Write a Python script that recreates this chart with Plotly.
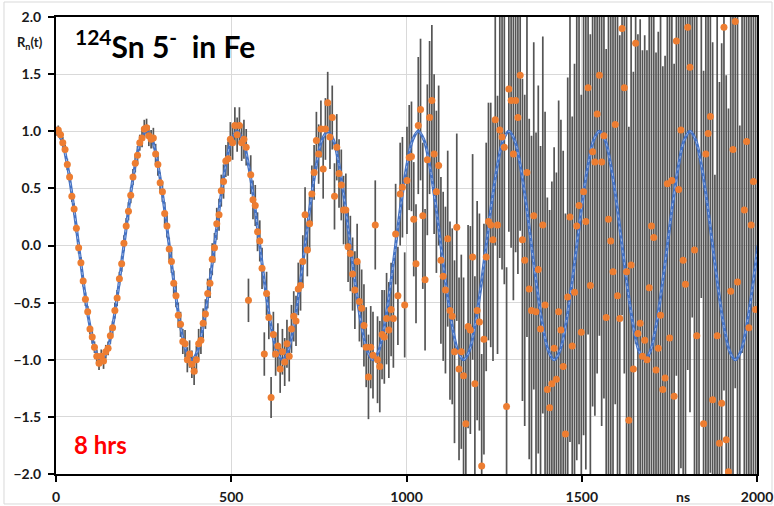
import plotly.graph_objects as go

# ---- data ----
t_start = 0.0          # ns, first channel
t_step = 6.46          # ns, channel width

r_values = [
    # 0 - 252 ns
    1.00, 1.01, 0.97, 0.90, 0.84, 0.71, 0.60, 0.43, 0.32, 0.15, -0.02, -0.15, -0.31, -0.47, -0.58, -0.73, -0.80, -0.89, -0.97, -1.03,
    -0.97, -1.01, -0.93, -0.90, -0.79, -0.72, -0.57, -0.46, -0.29, -0.16, 0.02, 0.17, 0.30, 0.44, 0.60, 0.72, 0.79, 0.90, 0.94, 1.02,
    # 258 - 510 ns
    1.03, 0.96, 0.93, 0.94, 0.80, 0.71, 0.55, 0.47, 0.28, 0.17, -0.03, -0.14, -0.33, -0.44, -0.61, -0.69, -0.84, -0.86, -1.00, -0.95,
    -1.04, -1.10, -1.00, -0.86, -0.83, -0.68, -0.60, -0.42, -0.33, -0.12, -0.02, 0.19, 0.27, 0.48, 0.56, 0.74, 0.76, 0.93, 0.90, 1.05,
    # 517 - 769 ns
    0.97, 1.05, 0.90, 0.93, 0.86, -0.48, 0.62, 0.40, 0.35, 0.12, 0.04, -0.20, -0.95, -0.42, -0.63, -1.33, -0.78, -0.95, -0.88, -1.08,
    -0.93, -1.02, -0.86, -0.97, -0.73, -0.62, -0.66, -0.38, -0.35, -0.14, 0.27, -0.04, 0.19, 0.45, 0.64, 0.92, 0.80, 1.02, 0.67, 1.02,
    # 775 - 1027 ns
    1.25, 0.95, 1.12, 0.43, 0.86, 0.63, 0.53, 0.31, 0.31, -0.01, -0.07, -0.25, -0.39, -0.14, -0.49, -0.55, -0.70, -0.89, -1.15, -0.89,
    -0.96, 0.18, -1.00, -1.06, -0.78, -0.80, -0.64, -0.74, -0.56, -0.64, 0.10, -0.44, 0.45, 0.51, -0.52, 0.57, 0.77, 0.78, 0.23, -0.16,
    # 1034 - 1285 ns
    1.05, 1.19, 0.26, -0.30, 0.75, 1.12, 1.27, 0.80, 0.47, 0.70, -0.13, -0.27, -0.39, 0.06, -0.57, -0.62, -0.93, 0.16, -1.08, -0.93,
    -1.14, -1.56, -0.71, -0.74, -0.10, -1.21, -0.57, -0.67, -1.93, -0.82, -0.10, 0.21, 0.18, 0.05, 1.10, 0.18, 1.01, 0.95, 0.86, -1.41,
    # 1292 - 1544 ns
    1.37, 1.27, 0.80, 1.27, 1.12, 1.49, 0.05, -0.13, 0.64, -0.38, -0.57, 0.26, -0.58, -0.21, -0.73, 0.18, -0.52, -1.26, -1.42, -1.21,
    -0.90, -1.17, -0.58, -0.74, -1.06, -1.65, -0.45, 0.25, -0.88, -0.41, 0.17, 0.35, -0.76, 0.47, 0.21, 1.38, -0.35, 0.82, 0.73, 1.15,
    # 1550 - 1802 ns
    1.49, 0.73, 0.96, -0.63, 0.23, 0.04, -0.23, 1.06, -0.44, -0.64, 1.90, 1.38, -0.23, -1.53, -0.17, -1.08, 1.77, -0.77, -0.68, -0.97,
    -0.83, -1.00, -0.37, 0.17, 0.07, -1.09, -0.90, -0.61, -1.26, -1.16, 0.54, -0.81, 0.57, -1.32, 1.79, 0.49, 1.01, -0.13, -0.34, 1.91,
    # 1809 - 1996 ns
    1.56, 2.40, -0.04, -0.79, -2.30, 2.60, -1.56, 0.80, 0.98, 1.13, -1.35, -2.50, -0.79, -1.73, -1.38, 1.91, -1.70, -1.98, -0.40, 0.84,
    1.96, -0.32, -2.20, 2.30, 0.31, 0.91, -0.72, 0.18, 0.56, -0.56,
]

r_errors = [
    0.04, 0.04, 0.04, 0.05, 0.04, 0.05, 0.04, 0.05, 0.05, 0.04, 0.05, 0.05, 0.05, 0.06, 0.05, 0.05, 0.06, 0.05, 0.06, 0.06,
    0.06, 0.07, 0.06, 0.06, 0.07, 0.06, 0.07, 0.07, 0.06, 0.07, 0.07, 0.07, 0.08, 0.07, 0.07, 0.08, 0.08, 0.07, 0.08, 0.08,
    0.08, 0.09, 0.08, 0.09, 0.09, 0.10, 0.09, 0.09, 0.10, 0.10, 0.10, 0.10, 0.11, 0.10, 0.11, 0.11, 0.11, 0.12, 0.11, 0.12,
    0.12, 0.12, 0.12, 0.13, 0.12, 0.13, 0.13, 0.13, 0.13, 0.14, 0.13, 0.14, 0.14, 0.14, 0.15, 0.14, 0.15, 0.15, 0.15, 0.16,
    0.15, 0.16, 0.16, 0.17, 0.16, 0.19, 0.17, 0.17, 0.18, 0.17, 0.18, 0.18, 0.19, 0.19, 0.19, 0.18, 0.20, 0.19, 0.20, 0.21,
    0.20, 0.21, 0.21, 0.22, 0.21, 0.22, 0.22, 0.23, 0.22, 0.23, 0.24, 0.23, 0.24, 0.25, 0.24, 0.25, 0.26, 0.25, 0.26, 0.27,
    0.27, 0.28, 0.28, 0.29, 0.29, 0.30, 0.31, 0.30, 0.32, 0.31, 0.33, 0.32, 0.34, 0.33, 0.35, 0.34, 0.36, 0.35, 0.37, 0.36,
    0.38, 0.39, 0.38, 0.40, 0.39, 0.41, 0.40, 0.42, 0.41, 0.43, 0.44, 0.43, 0.45, 0.44, 0.46, 0.47, 0.46, 0.48, 0.50, 0.52,
    0.60, 0.62, 0.64, 0.62, 0.66, 0.67, 0.66, 0.70, 0.71, 0.70, 0.73, 0.74, 0.73, 0.77, 0.78, 0.77, 0.80, 0.82, 0.80, 0.85,
    0.86, 0.85, 0.89, 0.91, 0.90, 0.94, 0.96, 0.95, 0.98, 1.01, 1.00, 1.04, 1.07, 1.06, 1.10, 1.13, 1.12, 1.16, 1.20, 1.22,
    1.25, 1.29, 1.28, 1.33, 1.37, 1.36, 1.41, 1.45, 1.44, 1.49, 1.53, 1.52, 1.57, 1.61, 1.60, 1.65, 1.69, 1.68, 1.73, 1.77,
    1.76, 1.81, 1.85, 1.84, 1.89, 1.93, 1.92, 1.97, 2.01, 2.00, 2.05, 2.09, 2.08, 2.13, 2.17, 2.16, 2.20, 2.23, 2.22, 2.27,
    2.28, 2.31, 2.30, 2.35, 2.38, 2.37, 2.42, 2.45, 2.44, 2.48, 2.51, 2.50, 2.55, 2.57, 2.56, 2.60, 2.63, 2.62, 2.66, 2.68,
    2.67, 2.71, 2.73, 2.72, 2.76, 2.78, 2.77, 2.81, 2.83, 2.82, 2.86, 2.88, 2.87, 2.91, 2.93, 2.92, 2.96, 2.97, 2.96, 3.00,
    3.02, 3.03, 3.02, 3.05, 3.07, 3.06, 3.09, 3.10, 3.09, 3.12, 3.13, 3.12, 3.15, 3.16, 3.15, 3.18, 3.19, 3.18, 3.21, 3.22,
    3.21, 3.24, 3.25, 3.24, 3.27, 3.28, 3.27, 3.30, 3.31, 3.30,
]

# fitted curve, sampled every 16.15 ns
fit_start = 0.0
fit_step = 16.15
fit_values = [
    1.000, 0.924, 0.707, 0.383, 0.000, -0.383, -0.707, -0.924, -1.000, -0.924, -0.707, -0.383, 0.000, 0.383, 0.707, 0.924,
    1.000, 0.924, 0.707, 0.383, 0.000, -0.383, -0.707, -0.924, -1.000, -0.924, -0.707, -0.383, 0.000, 0.383, 0.707, 0.924,
    1.000, 0.924, 0.707, 0.383, 0.000, -0.383, -0.707, -0.924, -1.000, -0.924, -0.707, -0.383, 0.000, 0.383, 0.707, 0.924,
    1.000, 0.924, 0.707, 0.383, 0.000, -0.383, -0.707, -0.924, -1.000, -0.924, -0.707, -0.383, 0.000, 0.383, 0.707, 0.924,
    1.000, 0.924, 0.707, 0.383, 0.000, -0.383, -0.707, -0.924, -1.000, -0.924, -0.707, -0.383, 0.000, 0.383, 0.707, 0.924,
    1.000, 0.924, 0.707, 0.383, 0.000, -0.383, -0.707, -0.924, -1.000, -0.924, -0.707, -0.383, 0.000, 0.383, 0.707, 0.924,
    1.000, 0.924, 0.707, 0.383, 0.000, -0.383, -0.707, -0.924, -1.000, -0.924, -0.707, -0.383, 0.000, 0.383, 0.707, 0.924,
    1.000, 0.924, 0.707, 0.383, 0.000, -0.383, -0.707, -0.924, -1.000, -0.924, -0.707, -0.383, 0.000,
]

x_ticks = [0, 500, 1000, 1500, 2000]
y_ticks = [-2.0, -1.5, -1.0, -0.5, 0.0, 0.5, 1.0, 1.5, 2.0]

FONT = "Lato"

fig = go.Figure()

# error bars (drawn first, under the fit line)
fig.add_trace(go.Scatter(
    x0=t_start, dx=t_step, y=r_values, mode="markers",
    marker=dict(size=6, color="rgba(0,0,0,0)"),
    error_y=dict(type="data", array=r_errors, color="#555555", thickness=1.7, width=0),
    hoverinfo="skip", showlegend=False,
))

# fit line
fig.add_trace(go.Scatter(
    x0=fit_start, dx=fit_step, y=fit_values, mode="lines",
    line=dict(color="#4472C4", width=3, shape="spline", smoothing=1.0),
    hoverinfo="skip", showlegend=False,
))
fig.add_trace(go.Scatter(
    x0=fit_start, dx=fit_step, y=fit_values, mode="lines",
    line=dict(color="#9DB5E3", width=1, shape="spline", smoothing=1.0, dash="dot"),
    hoverinfo="skip", showlegend=False,
))

# data points
fig.add_trace(go.Scatter(
    x0=t_start, dx=t_step, y=r_values, mode="markers",
    marker=dict(size=7, color="#ED7D31"),
    showlegend=False,
))

axis_font = dict(family=FONT, size=14, color="#1a1a1a", weight=700)

fig.update_layout(
    width=774, height=506,
    margin=dict(l=56, r=17, t=17, b=32),
    paper_bgcolor="white", plot_bgcolor="white",
    showlegend=False,
    xaxis=dict(
        range=[0, 2000], tickvals=x_ticks, showgrid=True, gridcolor="#d9d9d9", gridwidth=1,
        zeroline=False, showline=True, linecolor="black", linewidth=2, mirror=True,
        ticks="outside", ticklen=6, tickwidth=1.5, tickcolor="black",
        tickfont=axis_font, ticklabelstandoff=3, automargin=False,
    ),
    yaxis=dict(
        range=[-2, 2], tickvals=y_ticks, tickformat=".1f", showgrid=True, gridcolor="#d9d9d9", gridwidth=1,
        zeroline=False, showline=True, linecolor="black", linewidth=2, mirror=True,
        ticks="outside", ticklen=6, tickwidth=1.5, tickcolor="black",
        tickfont=axis_font, ticklabelstandoff=4, automargin=False,
    ),
    annotations=[
        dict(text="<sup>124</sup>Sn 5<sup>-</sup>  in Fe", x=48, y=1.76, xref="x", yref="y",
             xanchor="left", yanchor="middle", showarrow=False,
             font=dict(family=FONT, size=30, color="black", weight=700)),
        dict(text="R<sub>n</sub>(t)", x=-0.037, y=0.943, xref="paper", yref="paper",
             xanchor="center", yanchor="middle", showarrow=False,
             font=dict(family=FONT, size=13, color="#1a1a1a", weight=700)),
        dict(text="8 hrs", x=46, y=-1.74, xref="x", yref="y",
             xanchor="left", yanchor="middle", showarrow=False,
             font=dict(family=FONT, size=24, color="#FF0000", weight=700)),
        dict(text="ns", x=0.894, y=-0.050, xref="paper", yref="paper",
             xanchor="center", yanchor="middle", showarrow=False,
             font=axis_font),
    ],
    shapes=[
        dict(type="rect", xref="paper", yref="paper", x0=-0.0742, x1=1.0214, y0=-0.0656, y1=1.0328,
             line=dict(color="#d9d9d9", width=1), layer="below"),
    ],
)

fig.write_html("out.html")
